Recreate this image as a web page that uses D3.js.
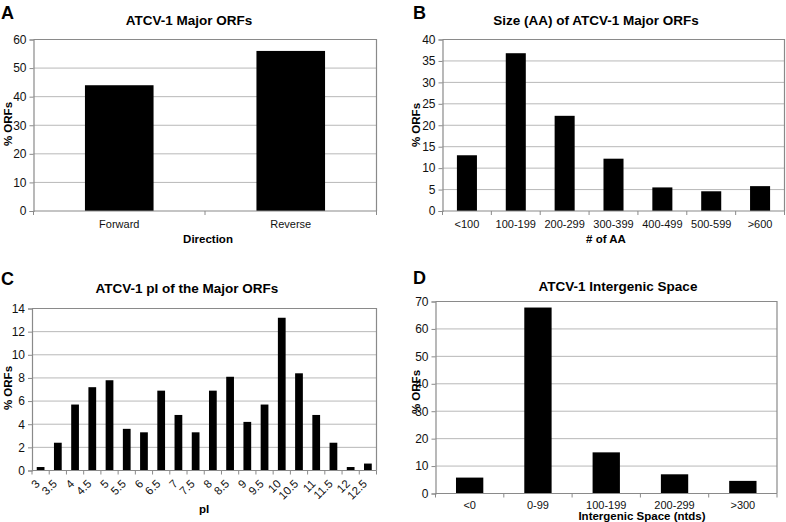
<!DOCTYPE html>
<html><head><meta charset="utf-8">
<script src="https://cdn.jsdelivr.net/npm/d3@7"></script>
<style>body{margin:0;background:#fff}svg{display:block;font-family:"Liberation Sans",Arial,sans-serif}</style>
</head><body>
<svg id="c" width="786" height="522"></svg>
<script>
// Panel A
const dirCats = ["Forward", "Reverse"];
const dirVals = [44, 56];
// Panel B
const sizeCats = ["<100", "100-199", "200-299", "300-399", "400-499", "500-599", ">600"];
const sizeVals = [13, 36.8, 22.2, 12.2, 5.5, 4.6, 5.8];
// Panel C
const piCats = ["3", "3.5", "4", "4.5", "5", "5.5", "6", "6.5", "7", "7.5", "8", "8.5", "9", "9.5", "10", "10.5", "11", "11.5", "12", "12.5"];
const piVals = [0.3, 2.4, 5.7, 7.2, 7.8, 3.6, 3.3, 6.9, 4.8, 3.3, 6.9, 8.1, 4.2, 5.7, 13.2, 8.4, 4.8, 2.4, 0.3, 0.6];
// Panel D
const interCats = ["<0", "0-99", "100-199", "200-299", ">300"];
const interVals = [5.8, 67.8, 15, 7, 4.6];

const svg = d3.select("#c");

function panel(cfg) {
  const g = svg.append("g");
  const x = d3.scaleBand().domain(cfg.cats).range([cfg.l, cfg.r]).paddingInner(cfg.pad).paddingOuter(cfg.pad / 2);
  const xb = d3.scaleBand().domain(cfg.cats).range([cfg.l, cfg.r]);
  const y = d3.scaleLinear().domain([0, cfg.ymax]).range([cfg.b, cfg.t]);
  const ticks = d3.range(0, cfg.ymax + 0.001, cfg.step);
  // gridlines
  g.selectAll("line.grid").data(ticks.filter(d => d > 0)).join("line")
    .attr("x1", cfg.l).attr("x2", cfg.r).attr("y1", d => y(d)).attr("y2", d => y(d))
    .attr("stroke", "#b8b8b8").attr("stroke-width", 1);
  // frame top & right
  g.append("path").attr("d", `M${cfg.l},${cfg.t}H${cfg.r}V${cfg.b}`).attr("fill", "none").attr("stroke", "#8a8a8a").attr("stroke-width", 1.2);
  // bars
  g.selectAll("rect").data(cfg.vals).join("rect")
    .attr("x", (d, i) => x(cfg.cats[i])).attr("width", x.bandwidth())
    .attr("y", d => y(d)).attr("height", d => y(0) - y(d)).attr("fill", "#000");
  // y axis
  const ya = d3.axisLeft(y).tickValues(ticks).tickSize(4).tickPadding(3).tickFormat(d3.format("d"));
  const yg = g.append("g").attr("transform", `translate(${cfg.l},0)`).call(ya);
  yg.select(".domain").attr("stroke", "#8a8a8a").attr("stroke-width", 1.2);
  yg.selectAll(".tick line").attr("stroke", "#8a8a8a");
  yg.selectAll("text").attr("font-size", 12).attr("fill", "#111");
  // x axis
  const xg = g.append("g").attr("transform", `translate(0,${cfg.b})`);
  xg.append("line").attr("x1", cfg.l).attr("x2", cfg.r).attr("stroke", "#8a8a8a").attr("stroke-width", 1.2);
  const bounds = cfg.cats.map(c => xb(c)).concat([cfg.r]);
  xg.selectAll("line.t").data(bounds).join("line").attr("class", "t")
    .attr("x1", d => d).attr("x2", d => d).attr("y1", 0).attr("y2", 4).attr("stroke", "#8a8a8a");
  const lbl = xg.selectAll("text.xl").data(cfg.cats).join("text").attr("class", "xl")
    .attr("font-size", 11.5).attr("fill", "#111").text(d => d);
  if (cfg.rotate) {
    lbl.attr("text-anchor", "end")
      .attr("transform", d => `translate(${xb(d) + xb.bandwidth() / 2},${14}) rotate(-45)`);
  } else {
    lbl.attr("font-size", 11).attr("text-anchor", "middle").attr("x", d => xb(d) + xb.bandwidth() / 2).attr("y", cfg.xly);
  }
  // titles
  g.append("text").attr("x", cfg.tx).attr("y", cfg.ty).attr("text-anchor", "middle")
    .attr("font-size", 13.5).attr("font-weight", "bold").text(cfg.title);
  g.append("text").attr("x", cfg.lx).attr("y", cfg.ly).attr("font-size", 18).attr("font-weight", "bold").text(cfg.letter);
  g.append("text").attr("x", cfg.xtx).attr("y", cfg.xty).attr("text-anchor", "middle")
    .attr("font-size", 11.5).attr("font-weight", "bold").text(cfg.xtitle);
  g.append("text").attr("transform", `translate(${cfg.ytx},${cfg.yty}) rotate(-90)`).attr("text-anchor", "middle")
    .attr("font-size", 11.5).attr("font-weight", "bold").text("% ORFs");
}

panel({cats: dirCats, vals: dirVals, l: 33.5, r: 376.5, t: 39.5, b: 211, ymax: 60, step: 10, pad: 0.6,
  title: "ATCV-1 Major ORFs", tx: 189, ty: 25, letter: "A", lx: 1, ly: 19,
  xtitle: "Direction", xtx: 208, xty: 243, xly: 17, ytx: 12, yty: 124});
panel({cats: sizeCats, vals: sizeVals, l: 442.5, r: 784.5, t: 39.5, b: 211, ymax: 40, step: 5, pad: 0.59,
  title: "Size (AA) of ATCV-1 Major ORFs", tx: 596, ty: 25, letter: "B", lx: 413, ly: 19,
  xtitle: "# of AA", xtx: 606, xty: 243, xly: 17, ytx: 420, yty: 125});
panel({cats: piCats, vals: piVals, l: 32, r: 376.5, t: 308.5, b: 470.5, ymax: 14, step: 2, pad: 0.55, rotate: true,
  title: "ATCV-1 pI of the Major ORFs", tx: 187, ty: 293, letter: "C", lx: 1, ly: 285,
  xtitle: "pI", xtx: 204, xty: 513, ytx: 12, yty: 388});
panel({cats: interCats, vals: interVals, l: 435.5, r: 777, t: 301.5, b: 493.5, ymax: 70, step: 10, pad: 0.6,
  title: "ATCV-1 Intergenic Space", tx: 618, ty: 291, letter: "D", lx: 413, ly: 284,
  xtitle: "Intergenic Space (ntds)", xtx: 642, xty: 520, xly: 15, ytx: 420, yty: 392});
</script>
</body></html>
